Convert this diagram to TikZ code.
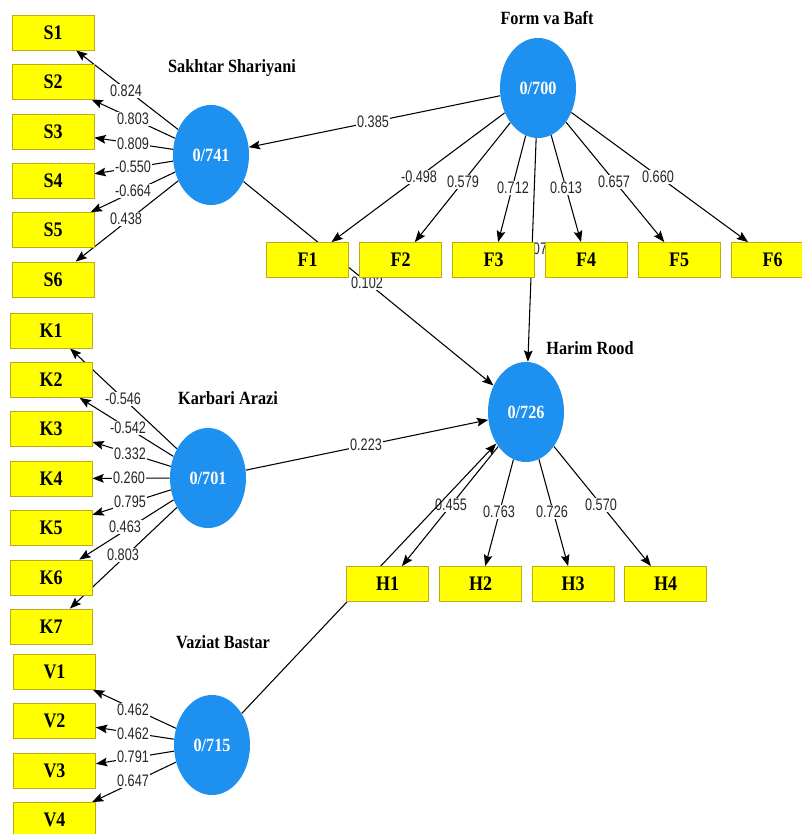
\documentclass[tikz,border=0pt]{standalone}
\usepackage{fontspec}
\setmainfont{Liberation Serif}
\newfontfamily\boxfont[FakeStretch=0.87]{Liberation Serif}
\newfontfamily\numfont[FakeStretch=0.76]{Liberation Sans}
\usetikzlibrary{shapes.geometric,arrows.meta}
\definecolor{lvblue}{RGB}{30,144,240}
\definecolor{boxyellow}{RGB}{255,255,0}
\definecolor{boxedge}{RGB}{190,170,20}
\pgfdeclarelayer{bg}
\pgfsetlayers{bg,main}
\begin{document}
\begin{tikzpicture}[x=0.75pt,y=-0.75pt,
 ind/.style={draw=boxedge,fill=boxyellow,line width=0.6pt,minimum width=61.5pt,minimum height=26.25pt,inner sep=0pt,font=\boxfont\bfseries\fontsize{15.5}{17}\selectfont},
 lv/.style={ellipse,fill=lvblue,minimum width=57pt,minimum height=75pt,inner sep=0pt,text=white,font=\boxfont\bfseries\fontsize{14}{16}\selectfont},
 ttl/.style={font=\boxfont\bfseries\fontsize{14}{16}\selectfont,inner sep=0pt},
 wt/.style={fill=white,inner sep=0.8pt,font=\numfont\fontsize{12.5}{14}\selectfont,text=black!85},
 arr/.style={-{Stealth[length=8.5pt,width=6.5pt,inset=1.5pt]},line width=0.8pt},
 ln/.style={line width=0.8pt}]
\useasboundingbox (0,0) rectangle (801,834);

% latent variables
\node[lv] (sak) at (211,155) {0/741};
\node[lv] (form) at (538,88) {0/700};
\node[lv] (harim) at (526,412) {0/726};
\node[lv] (kar) at (208,478) {0/701};
\node[lv] (vaz) at (212,745) {0/715};

% titles
\node[ttl] (tsak) at (232,68) {Sakhtar Shariyani};
\node[ttl] (tform) at (547,18) {Form va Baft};
\node[ttl] (tharim) at (590,348) {Harim Rood};
\node[ttl] (tkar) at (228,398) {Karbari Arazi};
\node[ttl] (tvaz) at (223,642) {Vaziat Bastar};

% indicators
\foreach \n/\y in {1/32.5,2/81.5,3/131.5,4/180.5,5/230,6/279.5}
  \node[ind] (S\n) at (53,\y) {S\n};
\foreach \n/\y in {1/330.5,2/380,3/429,4/478.5,5/528,6/577.5,7/626.5}
  \node[ind] (K\n) at (51,\y) {K\n};
\foreach \n/\y in {1/672,2/721,3/770.5,4/820}
  \node[ind] (V\n) at (54.5,\y) {V\n};
\foreach \n/\x in {1/307.5,2/400.5,3/493.5,4/586,5/679,6/772.5}
  \node[ind] (F\n) at (\x,260) {F\n};
\foreach \n/\x in {1/387.5,2/480.5,3/573,4/665.5}
  \node[ind] (H\n) at (\x,584) {H\n};

\begin{pgfonlayer}{bg}
\fill[white] (0,0) rectangle (801,834);
% outer loadings
\foreach \n in {1,...,6} \draw[arr] (sak) -- (S\n);
\foreach \n in {1,...,7} \draw[arr] (kar) -- (K\n);
\foreach \n in {1,...,4} \draw[arr] (vaz) -- (V\n);
\foreach \n in {1,...,6} \draw[arr] (form) -- (F\n);
\foreach \n in {1,...,4} \draw[arr] (harim) -- (H\n);
% structural paths
\draw[arr] (form) -- (sak);
\draw[arr] (sak) -- (harim);
\draw[arr] (form) -- (harim);
\draw[arr] (kar) -- (harim);

% weights
\node[wt] (ls1) at (126,91) {0.824};
\node[wt] (ls2) at (133,119) {0.803};
\node[wt] (ls3) at (133,144) {0.809};
\node[wt] (ls4) at (133,167) {-0.550};
\node[wt] (ls5) at (133,191) {-0.664};
\node[wt] (ls6) at (126,219) {0.438};

\node[wt] (lk1) at (123,399) {-0.546};
\node[wt] (lk2) at (128,428) {-0.542};
\node[wt] (lk3) at (130,454) {0.332};
\node[wt] (lk4) at (129,478) {0.260};
\node[wt] (lk5) at (130,502) {0.795};
\node[wt] (lk6) at (125,527) {0.463};
\node[wt] (lk7) at (123,555) {0.803};

\node[wt] (lv1) at (133,710) {0.462};
\node[wt] (lv2) at (133,734) {0.462};
\node[wt] (lv3) at (133,757) {0.791};
\node[wt] (lv4) at (133,781) {0.647};

\node[wt] (lfs) at (373,122) {0.385};
\node[wt] (lf1) at (419,177) {-0.498};
\node[wt] (lf2) at (463,182) {0.579};
\node[wt] (lf3) at (513,188) {0.712};
\node[wt] (lf4) at (566,188) {0.613};
\node[wt] (lf5) at (614,182) {0.657};
\node[wt] (lf6) at (658,177) {0.660};
\node[wt] (lfh) at (540,249) {07};

\node[wt] (lsh) at (367,283) {0.102};
\node[wt] (lkh) at (366,445) {0.223};
\node[wt] (lh1) at (451,505) {0.455};
\node[wt] (lh2) at (499,512) {0.763};
\node[wt] (lh3) at (552,512) {0.726};
\node[wt] (lh4) at (601,505) {0.570};

\draw[arr] (vaz) -- (harim);
\end{pgfonlayer}
\end{tikzpicture}
\end{document}
